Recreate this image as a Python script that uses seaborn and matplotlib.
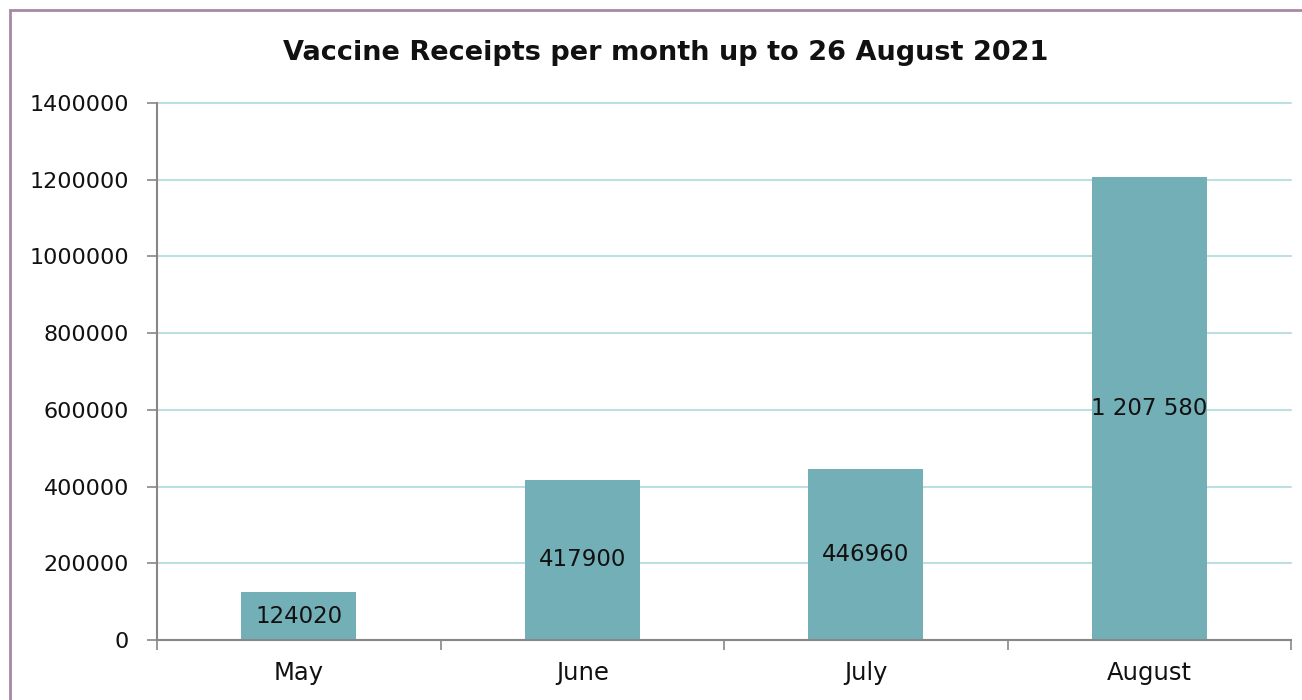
import matplotlib.pyplot as plt
import matplotlib.patches as mpatches
import seaborn as sns
import pandas as pd

months   = ["May", "June", "July", "August"]
receipts = [124020, 417900, 446960, 1207580]
labels   = ["124020", "417900", "446960", "1 207 580"]
yticks   = [0, 200000, 400000, 600000, 800000, 1000000, 1200000, 1400000]

BAR    = "#73AFB6"
GRID   = "#BCDFE4"
SPINE  = "#878787"
FRAME  = "#A887A3"
TEXT   = "#111111"

sns.set_style("white")
plt.rcParams["font.family"] = ["DejaVu Sans"]

df = pd.DataFrame({"Month": months, "Receipts": receipts})

fig = plt.figure(figsize=(13.02, 7.0), dpi=100)
ax = fig.add_axes([157/1302, 60/700, (1291-157)/1302, (640-103)/700])

sns.barplot(data=df, x="Month", y="Receipts", color=BAR, width=0.405,
            saturation=1, linewidth=0, ax=ax, zorder=3)

ax.bar_label(ax.containers[0], labels=labels, label_type="center",
             fontsize=16.5, color=TEXT)

ax.set_xlim(-0.5, 3.5)
ax.set_ylim(0, 1400000)
ax.set_yticks(yticks)
ax.set_yticklabels([str(v) for v in yticks])
ax.yaxis.grid(True, color=GRID, linewidth=1.5, zorder=0)
for gl in ax.get_ygridlines():
    gl.set_clip_on(False)
ax.set_axisbelow(True)
ax.set_xlabel(""); ax.set_ylabel("")

for s in ["top", "right"]:
    ax.spines[s].set_visible(False)
for s in ["left", "bottom"]:
    ax.spines[s].set_color(SPINE)
    ax.spines[s].set_linewidth(1.5)
    ax.spines[s].set_zorder(4)

ax.tick_params(axis="y", length=7, width=1.2, color=SPINE, labelsize=16,
               labelcolor=TEXT, pad=13, left=True)
ax.set_xticks([-0.5, 0.5, 1.5, 2.5, 3.5], minor=True)
ax.tick_params(axis="x", which="minor", length=7, width=1.2, color=SPINE,
               bottom=True)
ax.tick_params(axis="x", which="major", length=0, labelsize=17.5,
               labelcolor=TEXT, pad=15)

fig.text(0.511, 1 - 53/700, "Vaccine Receipts per month up to 26 August 2021",
         ha="center", va="center", fontsize=19.5, fontweight="bold",
         color=TEXT)

frame = mpatches.Rectangle((10/1302, -0.1), 1.2, 1 - 10/700 + 0.1,
                           transform=fig.transFigure, fill=False,
                           edgecolor=FRAME, linewidth=2)
fig.patches.append(frame)

fig.savefig("out.png", dpi=100, facecolor="white")
